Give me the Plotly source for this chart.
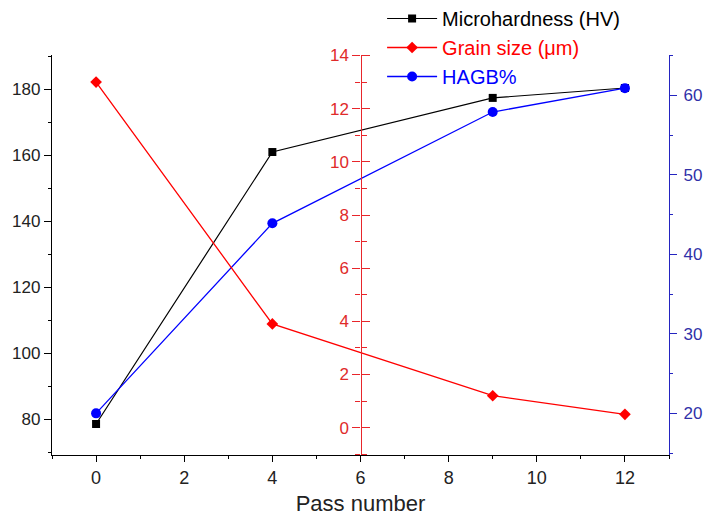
import plotly.graph_objects as go

# ---- data ----
pass_number = [0, 4, 9, 12]
microhardness = [78.6, 161.0, 177.4, 180.4]
grain_size = [13.0, 3.9, 1.2, 0.5]
hagb = [20.0, 43.9, 57.9, 60.9]

x_ticks = [0, 2, 4, 6, 8, 10, 12]

BLACK = "#000000"
RED = "#ff0000"
RED_AX = "#e8262b"
BLUE = "#0000ff"
BLUE_AX = "#2424c0"
FONT = "Liberation Sans, Arial, sans-serif"

fig = go.Figure()

fig.add_trace(go.Scatter(
    x=pass_number, y=microhardness, mode="lines+markers",
    name="Microhardness (HV)",
    line=dict(color=BLACK, width=1.2),
    marker=dict(symbol="square", size=8, color=BLACK),
    yaxis="y"))

fig.add_trace(go.Scatter(
    x=pass_number, y=grain_size, mode="lines+markers",
    name='<span style="color:#ff0000">Grain size (μm)</span>',
    line=dict(color=RED, width=1.3),
    marker=dict(symbol="diamond", size=9, color=RED),
    yaxis="y3"))

fig.add_trace(go.Scatter(
    x=pass_number, y=hagb, mode="lines+markers",
    name='<span style="color:#0000ff">HAGB%</span>',
    line=dict(color=BLUE, width=1.3),
    marker=dict(symbol="circle", size=10, color=BLUE),
    yaxis="y2"))

# invisible trace that activates the second red axis (ticks on the right side)
fig.add_trace(go.Scatter(x=[None], y=[None], yaxis="y4", showlegend=False, hoverinfo="skip"))

fig.update_layout(
    width=706, height=519,
    margin=dict(l=52, r=37, t=55, b=64, autoexpand=False),
    paper_bgcolor="white", plot_bgcolor="white",
    font=dict(family=FONT, size=17, color="#222222"),
    showlegend=True,
    legend=dict(x=0.535, y=1.14, xanchor="left", yanchor="top",
                font=dict(size=20, color=BLACK), bgcolor="rgba(0,0,0,0)",
                tracegroupgap=0, itemwidth=50),
    xaxis=dict(
        range=[-1, 13], tickvals=x_ticks, ticktext=[str(v) for v in x_ticks],
        showline=True, linecolor=BLACK, linewidth=1.3, mirror=False,
        ticks="outside", ticklen=6, tickwidth=1.2, tickcolor=BLACK,
        minor=dict(ticks="outside", ticklen=3, dtick=1, tick0=0, tickcolor=BLACK),
        showgrid=False, zeroline=False,
        tickfont=dict(size=18, color="#222222"),
        title=dict(text="Pass number", font=dict(size=22, color="#222222"), standoff=8),
    ),
    yaxis=dict(
        range=[69.2, 190.4], dtick=20, tick0=0,
        showline=True, linecolor=BLACK, linewidth=1.3,
        ticks="outside", ticklen=7, tickwidth=1.2, tickcolor=BLACK,
        minor=dict(ticks="outside", ticklen=3, dtick=10, tick0=0, tickcolor=BLACK),
        showgrid=False, zeroline=False,
        tickfont=dict(size=17, color="#222222"),
    ),
    yaxis2=dict(
        range=[14.76, 65.07], dtick=10, tick0=0, overlaying="y", side="right", anchor="x",
        showline=True, linecolor=BLUE_AX, linewidth=1.3,
        ticks="outside", ticklen=7, tickwidth=1.2, tickcolor=BLUE_AX,
        minor=dict(ticks="outside", ticklen=3, dtick=5, tick0=0, tickcolor=BLUE_AX),
        showgrid=False, zeroline=False, ticklabelstandoff=3,
        tickfont=dict(size=17, color="#3030a8"),
    ),
    yaxis3=dict(
        range=[-1.03, 14.02], dtick=2, tick0=0, overlaying="y", side="left",
        anchor="free", position=0.5,
        showline=True, linecolor=RED_AX, linewidth=1.3,
        ticks="outside", ticklen=8, tickwidth=1.2, tickcolor=RED_AX,
        minor=dict(ticks="outside", ticklen=5, dtick=1, tick0=0, tickcolor=RED_AX),
        showgrid=False, zeroline=False,
        tickfont=dict(size=17, color="#e02a2a"),
    ),
    yaxis4=dict(
        range=[-1.03, 14.02], dtick=2, tick0=0, overlaying="y", side="right",
        anchor="free", position=0.5,
        showline=False, showticklabels=False,
        ticks="outside", ticklen=8, tickwidth=1.2, tickcolor=RED_AX,
        minor=dict(ticks="outside", ticklen=5, dtick=1, tick0=0, tickcolor=RED_AX),
        showgrid=False, zeroline=False,
    ),
)

fig.write_html("out.html")
